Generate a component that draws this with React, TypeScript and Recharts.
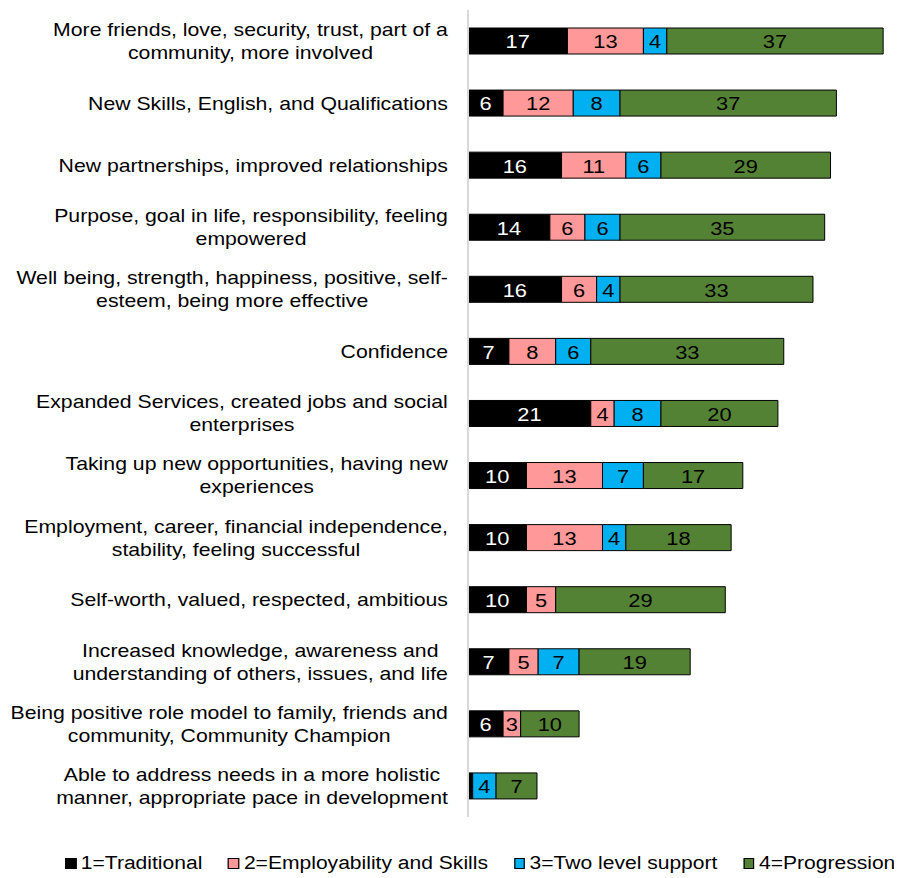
import React from 'react';
import { BarChart, Bar, XAxis, YAxis, LabelList } from 'recharts';

const categories = [
  'More friends, love, security, trust, part of a\ncommunity, more involved',
  'New Skills, English, and Qualifications',
  'New partnerships, improved relationships',
  'Purpose, goal in life, responsibility, feeling\nempowered',
  'Well being, strength, happiness, positive, self-\nesteem, being more effective',
  'Confidence',
  'Expanded Services, created jobs and social\nenterprises',
  'Taking up new opportunities, having new\nexperiences',
  'Employment, career, financial independence,\nstability, feeling successful',
  'Self-worth, valued, respected, ambitious',
  'Increased knowledge, awareness and\nunderstanding of others, issues, and life',
  'Being positive role model to family, friends and\ncommunity, Community Champion',
  'Able to address needs in a more holistic\nmanner, appropriate pace in development',
];

const traditional = [17, 6, 16, 14, 16, 7, 21, 10, 10, 10, 7, 6, 0.8];
const employability = [13, 12, 11, 6, 6, 8, 4, 13, 13, 5, 5, 3, 0];
const twoLevel = [4, 8, 6, 6, 4, 6, 8, 7, 4, 0, 7, 0, 4];
const progression = [37, 37, 29, 35, 33, 33, 20, 17, 18, 29, 19, 10, 7];

const seriesNames = ['1=Traditional', '2=Employability and Skills', '3=Two level support', '4=Progression'];
const seriesColors = ['#000000', '#FF9999', '#00B0F0', '#548235'];

const data = categories.map((c, i) => ({
  name: c,
  s1: traditional[i],
  s2: employability[i],
  s3: twoLevel[i],
  s4: progression[i],
}));

const FONT = "'Liberation Sans', Arial, sans-serif";
const TICK_SIZE = 18;
const SX = 1.18;

let ctx: CanvasRenderingContext2D | null = null;
function measure(t: string, size: number) {
  if (!ctx) {
    const c = document.createElement('canvas');
    ctx = c.getContext('2d');
  }
  if (!ctx) return t.length * size * 0.5;
  ctx.font = `${size}px ${FONT}`;
  return ctx.measureText(t).width;
}

const CustomTick = (props: any) => {
  const { x, y, payload } = props;
  const lines: string[] = String(payload.value).split('\n');
  const widths = lines.map((l) => measure(l, TICK_SIZE));
  const maxW = Math.max(...widths) * SX;
  const cx = x - maxW / 2;
  const lh = 23;
  const start = y - ((lines.length - 1) * lh) / 2;
  return (
    <g>
      {lines.map((l, i) => (
        <g key={i} transform={`translate(${cx},${start + i * lh}) scale(${SX},1)`}>
          <text
            x={0}
            y={0}
            textAnchor="middle"
            dominantBaseline="central"
            fontFamily={FONT}
            fontSize={TICK_SIZE}
            fill="#000"
          >
            {l}
          </text>
        </g>
      ))}
    </g>
  );
};

const makeLabel = (color: string) => (props: any) => {
  const { x, y, width, height, value } = props;
  if (typeof value !== 'number' || value < 1) return null;
  const cx = Number(x) + Number(width) / 2;
  const cy = Number(y) + Number(height) / 2;
  return (
    <g transform={`translate(${cx},${cy + 1}) scale(${SX},1)`}>
      <text
        x={0}
        y={0}
        textAnchor="middle"
        dominantBaseline="central"
        fontFamily={FONT}
        fontSize={18.5}
        fill={color}
      >
        {value}
      </text>
    </g>
  );
};

const LegendBox = () => (
  <div
    style={{
      position: 'absolute',
      left: 56.5,
      top: 844,
      width: 'max-content',
      display: 'flex',
      alignItems: 'center',
      gap: 22,
      fontFamily: FONT,
      fontSize: 18,
      lineHeight: '22px',
      color: '#000',
      transform: `scaleX(1.17)`,
      transformOrigin: 'left center',
      whiteSpace: 'nowrap',
    }}
  >
    {seriesNames.map((n, i) => (
      <div key={n} style={{ display: 'flex', alignItems: 'center', flexShrink: 0 }}>
        <span
          style={{
            display: 'inline-block',
            width: 7.5,
            height: 9,
            background: seriesColors[i],
            border: '1px solid #000',
            marginRight: 4,
          }}
        />
        <span>{n}</span>
      </div>
    ))}
  </div>
);

export default function App() {
  const keys = ['s1', 's2', 's3', 's4'];
  return (
    <div style={{ width: 886, height: 870, position: 'relative' }}>
      <BarChart
        width={886}
        height={870}
        data={data}
        layout="vertical"
        margin={{ top: 2, right: 5, bottom: 61, left: 0 }}
        barSize={26}
      >
        <XAxis type="number" domain={[0, 72]} hide />
        <YAxis
          type="category"
          dataKey="name"
          width={460}
          tickLine={false}
          tickSize={0}
          tickMargin={20}
          axisLine={{ stroke: '#D9D9D9', strokeWidth: 2 }}
          tick={<CustomTick />}
          interval={0}
        />
        {keys.map((k, i) => (
          <Bar
            key={k}
            dataKey={k}
            stackId="a"
            fill={seriesColors[i]}
            stroke="#000"
            strokeWidth={1}
            isAnimationActive={false}
            name={seriesNames[i]}
          >
            <LabelList dataKey={k} content={makeLabel(i === 0 ? '#fff' : '#000')} />
          </Bar>
        ))}
      </BarChart>
      <LegendBox />
    </div>
  );
}
